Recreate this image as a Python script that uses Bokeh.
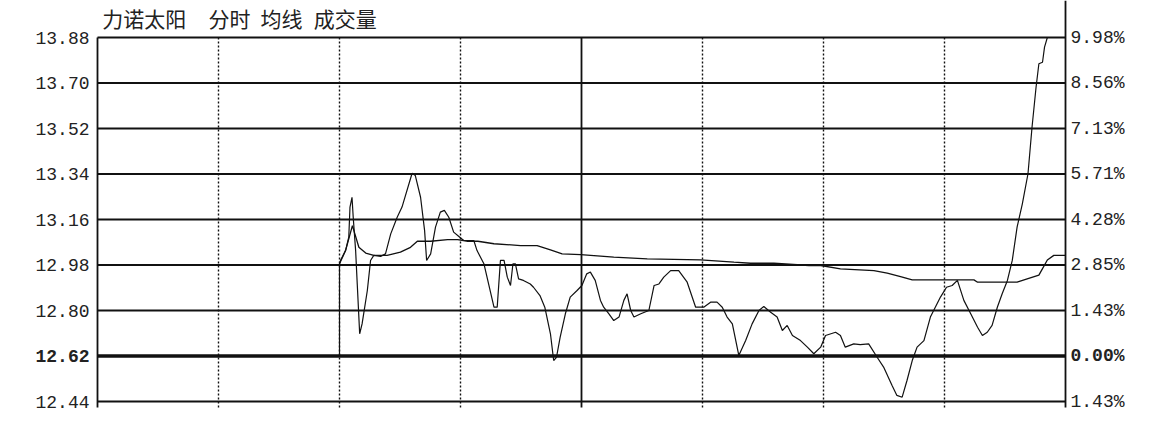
from bokeh.plotting import figure
from bokeh.models import Range1d, Label
from bokeh.embed import file_html
from bokeh.resources import INLINE

# ---------------- data ----------------
prev_close = 12.62
price_ticks = [13.88, 13.70, 13.52, 13.34, 13.16, 12.98, 12.80, 12.62, 12.44]
left_labels = ["13.88", "13.70", "13.52", "13.34", "13.16", "12.98", "12.80", "12.62", "12.44"]
right_labels = ["9.98%", "8.56%", "7.13%", "5.71%", "4.28%", "2.85%", "1.43%", "0.00%", "1.43%"]
time_ticks = [0, 30, 60, 90, 120, 150, 180, 210, 240]   # minutes of the trading day
solid_times = [0, 120, 240]
title_parts = ["力诺太阳", "分时", "均线", "成交量"]

# minute of trading day, price
price_min = [60, 60, 60.3, 61.5, 62.3, 62.6, 63.1, 63.4, 64.0, 64.4, 65.0, 65.6, 66.9, 67.7, 68.5,
             70.2, 71.4, 72.7, 74.3, 75.5, 78.0, 78.8, 80.1, 81.1, 81.6, 82.6, 83.8, 85.0, 86.0,
             87.1, 88.3, 89.6, 90.8, 93.3, 94.1, 95.8, 98.3, 99.1, 99.9, 100.8, 101.6, 102.4,
             103.0, 103.6, 104.4, 105.6, 107.3, 108.1, 109.7, 110.9, 112.3, 113.1, 113.8, 114.7,
             116.0, 117.2, 118.9, 120.1, 121.3, 122.2, 123.4, 124.7, 125.5, 126.8, 128.0, 129.3,
             130.5, 131.3, 132.2, 133.0, 134.7, 136.7, 138.0, 139.2, 140.4, 142.1, 144.1, 146.2,
             148.3, 150.3, 152.0, 153.6, 154.9, 156.1, 157.4, 159.0, 160.7, 162.3, 164.0, 165.2,
             166.9, 168.5, 169.8, 171.0, 172.3, 174.3, 176.0, 177.6, 179.3, 180.5, 183.0, 184.2,
             185.4, 187.5, 189.1, 191.2, 193.3, 194.9, 197.0, 198.2, 199.5, 200.7, 202.0, 203.2,
             204.9, 206.5, 209.0, 210.5, 211.9, 213.2, 214.8, 216.5, 218.2, 219.4, 220.6, 221.8,
             223.1, 224.3, 225.6, 226.8, 228.0, 229.3, 230.7, 231.7, 232.7, 233.4, 234.3, 234.8,
             235.5, 240]
price_val = [12.62, 12.985, 13.0, 13.037, 13.09, 13.209, 13.248, 13.169, 13.037, 12.905, 12.708,
             12.747, 12.879, 12.998, 13.018, 13.014, 13.024, 13.103, 13.169, 13.209, 13.343, 13.334,
             13.248, 13.116, 12.998, 13.024, 13.130, 13.189, 13.196, 13.169, 13.110, 13.093, 13.077,
             13.077, 13.037, 12.985, 12.813, 12.813, 12.998, 12.998, 12.932, 12.899, 12.985, 12.985,
             12.925, 12.919, 12.905, 12.892, 12.859, 12.813, 12.708, 12.602, 12.615, 12.694, 12.787,
             12.853, 12.879, 12.899, 12.945, 12.952, 12.919, 12.84, 12.813, 12.787, 12.76, 12.774,
             12.84, 12.866, 12.8, 12.774, 12.787, 12.8, 12.899, 12.905, 12.932, 12.958, 12.958,
             12.912, 12.813, 12.813, 12.833, 12.833, 12.813, 12.774, 12.747, 12.622, 12.681, 12.747,
             12.8, 12.816, 12.793, 12.774, 12.721, 12.741, 12.701, 12.681, 12.655, 12.629, 12.655,
             12.701, 12.714, 12.701, 12.655, 12.668, 12.665, 12.668, 12.615, 12.576, 12.503, 12.464,
             12.457, 12.523, 12.602, 12.655, 12.681, 12.774, 12.853, 12.892, 12.899, 12.919, 12.84,
             12.787, 12.734, 12.701, 12.714, 12.741, 12.813, 12.866, 12.919, 12.998, 13.130, 13.222,
             13.341, 13.525, 13.683, 13.776, 13.782, 13.842, 13.88, 13.88]

avg_min = [60, 61.5, 63.2, 64.8, 66.5, 68.5, 71.8, 75.1, 77.6, 79.3, 82.6, 86.8, 89.3, 91.8, 94.3,
           98.3, 104.9, 109.0, 112.3, 115.2, 119.8, 128.0, 136.3, 149.5, 157.8, 161.9, 167.7,
           176.4, 179.3, 184.2, 192.5, 195.8, 199.1, 202.0, 217.3, 218.2, 228.0, 230.5, 233.4,
           235.5, 237.1, 238.8, 240]
avg_val = [12.985, 13.037, 13.136, 13.05, 13.027, 13.018, 13.018, 13.031, 13.05, 13.074, 13.074,
           13.08, 13.08, 13.074, 13.074, 13.064, 13.057, 13.057, 13.04, 13.024, 13.021, 13.011,
           13.004, 13.0, 12.991, 12.987, 12.987, 12.978, 12.978, 12.965, 12.958, 12.948, 12.934,
           12.921, 12.921, 12.912, 12.912, 12.925, 12.94, 13.0, 13.018, 13.018, 13.018]

# ---------------- layout (pixels) ----------------
W, H = 1150, 420
GRID_L, GRID_R = 97, 1065          # x of left / right border of the grid box
GRID_T, GRID_B = 37, 401           # y of top / bottom grid lines
TICK_EXT = 6                       # vertical lines run this far below the bottom line
xs = (GRID_R - GRID_L) / (time_ticks[-1] - time_ticks[0])
ys = (GRID_B - GRID_T) / (price_ticks[0] - price_ticks[-1])
x_lo = time_ticks[0] - GRID_L / xs
x_hi = time_ticks[-1] + (W - GRID_R) / xs
y_hi = price_ticks[0] + GRID_T / ys
y_lo = price_ticks[-1] - (H - GRID_B) / ys
y_ext = price_ticks[-1] - TICK_EXT / ys

p = figure(width=W, height=H, output_backend="svg", toolbar_location=None,
           x_range=Range1d(x_lo, x_hi), y_range=Range1d(y_lo, y_hi),
           x_axis_type=None, y_axis_type=None,
           min_border_left=0, min_border_right=0, min_border_top=0, min_border_bottom=0)
p.grid.visible = False
p.outline_line_color = None
p.background_fill_color = "white"
p.border_fill_color = "white"

ink = "#111111"

# horizontal grid lines
for t in price_ticks:
    p.segment(x0=time_ticks[0], x1=time_ticks[-1], y0=t, y1=t, line_color=ink,
              line_width=3.5 if t == prev_close else 1.8)

# vertical lines
for t in time_ticks:
    if t == time_ticks[-1]:
        p.segment(x0=t, x1=t, y0=y_hi, y1=y_ext, line_color=ink, line_width=1.8)
    elif t in solid_times:
        p.segment(x0=t, x1=t, y0=price_ticks[0], y1=y_ext, line_color=ink, line_width=1.8)
    else:
        p.segment(x0=t, x1=t, y0=price_ticks[0], y1=y_ext, line_color=ink, line_width=1.4,
                  line_dash="2 2")

# average and price lines
p.line(avg_min, avg_val, line_color=ink, line_width=1.3)
p.line(price_min, price_val, line_color=ink, line_width=1.2)

# axis labels
for t, lab in zip(price_ticks, left_labels):
    p.add_layout(Label(x=time_ticks[0], y=t, x_offset=-8, text=lab, text_align="right",
                       text_baseline="middle", text_font="Liberation Mono",
                       text_font_size="18px", text_color="#222222",
                       text_font_style="bold" if t == prev_close else "normal"))
for t, lab in zip(price_ticks, right_labels):
    p.add_layout(Label(x=time_ticks[-1], y=t, x_offset=5, text=lab, text_align="left",
                       text_baseline="middle", text_font="Liberation Mono",
                       text_font_size="18px", text_color="#222222",
                       text_font_style="bold" if t == prev_close else "normal"))

# title
title_x = [1.2, 27.5, 40.4, 53.6]
for tx, txt in zip(title_x, title_parts):
    p.add_layout(Label(x=tx, y=price_ticks[0], y_offset=20, text=txt, text_align="left",
                       text_baseline="middle", text_font="Noto Sans CJK SC",
                       text_font_size="21px", text_color="#222222"))

open("out.html", "w").write(file_html(p, INLINE))
